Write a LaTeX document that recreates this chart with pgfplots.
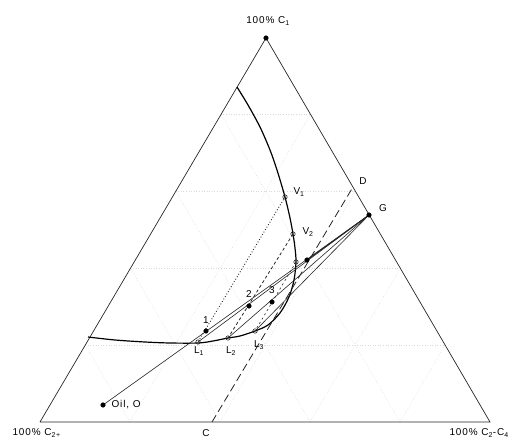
\documentclass[border=0pt]{standalone}
\usepackage{pgfplots}
\pgfplotsset{compat=1.18}
\usepackage{fontspec}
\setmainfont{Liberation Sans}[LetterSpace=9]
\begin{document}
\begin{tikzpicture}
\begin{axis}[name=ax, scale only axis, width=528bp, height=445bp,
  xmin=0, xmax=528, ymin=0, ymax=445, y dir=reverse, hide axis, clip=false,
  every node/.style={font=\fontsize{10.8}{12}\selectfont, text=black!80}]
% faint 20% grid
\addplot[gray!30, dotted, line width=0.6pt] coordinates {(85.2,345) (445.2,345)};
\addplot[gray!30, dotted, line width=0.6pt] coordinates {(130.4,268) (400.4,268)};
\addplot[gray!30, dotted, line width=0.6pt] coordinates {(175.6,191) (355.6,191)};
\addplot[gray!30, dotted, line width=0.6pt] coordinates {(220.8,114) (310.8,114)};
\addplot[gray!30, dotted, line width=0.6pt] coordinates {(130,422) (85.2,345)};
\addplot[gray!30, dotted, line width=0.6pt] coordinates {(220,422) (130.4,268)};
\addplot[gray!30, dotted, line width=0.6pt] coordinates {(310,422) (175.6,191)};
\addplot[gray!30, dotted, line width=0.6pt] coordinates {(400,422) (220.8,114)};
\addplot[gray!30, dotted, line width=0.6pt] coordinates {(400,422) (445.2,345)};
\addplot[gray!30, dotted, line width=0.6pt] coordinates {(310,422) (400.4,268)};
\addplot[gray!30, dotted, line width=0.6pt] coordinates {(220,422) (355.6,191)};
\addplot[gray!30, dotted, line width=0.6pt] coordinates {(130,422) (310.8,114)};
% triangle
\addplot[black!85, line width=0.7pt] coordinates {(40,422) (490,422) (266,38) (40,422)};
% binodal curve
\addplot[black, line width=1.2pt, smooth, tension=0.5] coordinates {
 (237,87) (248,105) (260,127) (270,150) (277,170) (285,197) (290,218) (293,234)
 (295,248) (296,262) (294,280) (289,297) (280,313) (268,325) (255,331)
 (240,336) (228,338) (213,341) (198,343) (170,343) (145,342) (115,340) (88,337)};
% mixing / operating lines
\addplot[black!85, line width=0.6pt] coordinates {(103,405) (369,215)};
\addplot[black!85, line width=0.6pt] coordinates {(198,342) (369,215)};
\addplot[black!85, line width=0.6pt] coordinates {(228,338) (369,215)};
\addplot[black!85, line width=0.6pt] coordinates {(255,331) (369,215)};
\addplot[black!85, line width=1.0pt] coordinates {(307,260) (369,215)};
% tie lines
\addplot[black!85, dotted, line width=0.9pt] coordinates {(285,197) (198,342)};
\addplot[black!85, dash pattern=on 3pt off 2.5pt, line width=0.8pt] coordinates {(293,234) (228,338)};
\addplot[black!85, dash pattern=on 2pt off 3pt, line width=0.6pt] coordinates {(296,262) (255,331)};
% dilution line C-D
\addplot[black!85, dash pattern=on 8pt off 4pt, line width=0.8pt] coordinates {(212,422) (353,187)};
% points
\addplot[only marks, mark=*, mark size=2.3pt, black] coordinates {(266,38) (103,405) (369,215) (206,331) (249,306) (272,302) (307,260)};
\addplot[only marks, mark=o, mark size=2.2pt, black!85, mark options={fill=white, line width=0.6pt}] coordinates {(285,197) (293,234) (296,262) (198,342) (228,338) (255,331)};
% labels
\node at (268,21) {100\% C\textsubscript{1}};
\node[anchor=west] at (9,433) {100\% C\textsubscript{2+}};
\node[anchor=west] at (446,433) {100\% C\textsubscript{2}-C\textsubscript{4}};
\node[anchor=west] at (108,405) {Oil, O};
\node at (206,433) {C};
\node at (363,181) {D};
\node at (383,208) {G};
\node[anchor=west] at (290,192) {V\textsubscript{1}};
\node[anchor=west] at (299,232) {V\textsubscript{2}};
\node at (206,320) {1};
\node at (249,294) {2};
\node at (272,290) {3};
\node at (199,351) {L\textsubscript{1}};
\node at (231,351) {L\textsubscript{2}};
\node at (259,345) {L\textsubscript{3}};
\end{axis}
\pgfresetboundingbox
\path (ax.south west) rectangle (ax.north east);
\end{tikzpicture}
\end{document}
